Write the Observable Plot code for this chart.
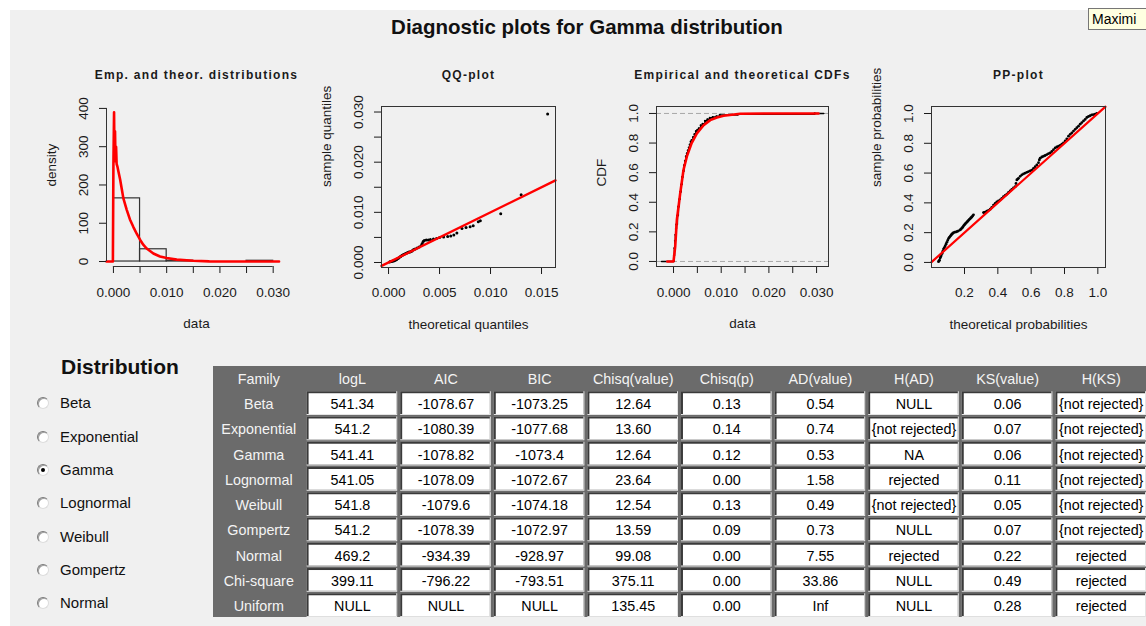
<!DOCTYPE html>
<html>
<head>
<meta charset="utf-8">
<script src="https://cdn.jsdelivr.net/npm/d3@7"></script>
<script src="https://cdn.jsdelivr.net/npm/@observablehq/plot@0.6"></script>
<style>
  body { margin:0; width:1146px; height:626px; overflow:hidden; position:relative; background:#fff; font-family:"Liberation Sans", Arial, sans-serif; }
  #bg { position:absolute; left:10px; top:10px; right:0; bottom:0; background:#f0f0f0; }
  .abs { position:absolute; }
  #title { left:0; width:1174px; top:15px; text-align:center; font-weight:bold; font-size:20.5px; color:#111; }
  #tip { left:1088px; top:8px; width:58px; height:22px; background:#ffffe1; border:1px solid #767676; border-right:none; font-size:14px; line-height:20px; padding-left:3px; box-sizing:border-box; overflow:hidden; white-space:nowrap; }
  #distHead { left:61px; top:355px; font-weight:bold; font-size:21px; color:#111; }
  .radio { position:absolute; width:12px; height:12px; border-radius:50%; background:#fff; box-sizing:border-box; border:1px solid; border-color:#7a7a7a #dcdcdc #dcdcdc #7a7a7a; box-shadow: inset 1px 1px 0 #a0a0a0; }
  .radio.on::after { content:""; position:absolute; left:3px; top:3px; width:4px; height:4px; border-radius:50%; background:#000; }
  .rlabel { position:absolute; font-size:15px; color:#111; line-height:18px; }
</style>
</head>
<body>
<div id="bg"></div>
<div id="title" class="abs">Diagnostic plots for Gamma distribution</div>
<div id="tip" class="abs">Maximi</div>
<div id="distHead" class="abs">Distribution</div>
<div id="radios"></div>
<div id="p1" class="abs" style="left:30px;top:60px"></div>
<div id="p2" class="abs" style="left:300px;top:60px"></div>
<div id="p3" class="abs" style="left:580px;top:60px"></div>
<div id="p4" class="abs" style="left:860px;top:60px"></div>
<div id="tbl" class="abs" style="left:213px;top:366px"></div>
<script>
// ---------------- DATA ----------------
// Panel 1: histogram + fitted gamma density
const histStart = [0, 0.005, 0.010, 0.015, 0.020, 0.025];
const histEnd   = [0.005, 0.010, 0.015, 0.020, 0.025, 0.030];
const histDensity = [165, 32, 2, 0, 0, 2];
const densityCurve = [
  [-0.0013, 0], [-0.0001, 0], [0.0000, 257], [0.00012, 390], [0.0002, 262], [0.0003, 340],
  [0.00038, 270], [0.0005, 300], [0.0006, 255], [0.00075, 248], [0.00094, 235], [0.00125, 215],
  [0.00156, 190], [0.00187, 165], [0.0025, 135], [0.0031, 110], [0.00375, 90], [0.0044, 72],
  [0.005, 57], [0.0056, 44], [0.00625, 34], [0.0075, 21], [0.00875, 13], [0.010, 9],
  [0.0119, 5], [0.015, 2], [0.018, 0.5], [0.0311, 0]
];
const p1XTicks = [0, 0.005, 0.010, 0.015, 0.020, 0.025, 0.030];
const p1XLabels = ["0.000", "", "0.010", "", "0.020", "", "0.030"];
const p1YTicks = [0, 100, 200, 300, 400];
const p1YLabels = ["0", "100", "200", "300", "400"];

// Panel 2: QQ plot (theoretical, sample)
const qqPoints = [
  [0.0001,0.0001],[0.0002,0.0002],[0.0003,0.0002],[0.0004,0.0003],[0.0005,0.0003],[0.0006,0.0004],
  [0.0007,0.0005],[0.0008,0.0006],[0.0009,0.0008],[0.0010,0.0009],[0.0011,0.0011],[0.0012,0.0012],
  [0.0013,0.0014],[0.0014,0.0015],[0.0015,0.0016],[0.0016,0.0017],[0.0017,0.0018],[0.0018,0.0019],
  [0.0019,0.0020],[0.0020,0.0021],[0.0021,0.0021],[0.0022,0.0022],[0.0023,0.0023],[0.0024,0.0025],
  [0.0025,0.0026],[0.0026,0.0027],[0.0028,0.0029],[0.0030,0.0031],[0.0032,0.0034],[0.0033,0.0038],
  [0.0034,0.0042],[0.0035,0.0044],[0.0037,0.0045],[0.0039,0.0045],[0.0041,0.0046],[0.0044,0.0047],
  [0.0047,0.0048],[0.0050,0.0050],[0.0054,0.0051],[0.0058,0.0052],[0.0061,0.0053],[0.0064,0.0055],
  [0.0067,0.0059],[0.0072,0.0068],[0.0076,0.0070],[0.0080,0.0071],[0.0083,0.0073],[0.0088,0.0081],
  [0.0090,0.0083],[0.0110,0.0097],[0.0130,0.0135],[0.0156,0.0296]
];
const p2XTicks = [0, 0.005, 0.010, 0.015];
const p2XLabels = ["0.000", "0.005", "0.010", "0.015"];
const p2YTicks = [0, 0.005, 0.010, 0.015, 0.020, 0.025, 0.030];
const p2YLabels = ["0.000", "", "0.010", "", "0.020", "", "0.030"];

// Panel 3: empirical and theoretical CDFs
const ecdfPoints = [
  [-0.0025,0],[0.0001,0.04],[0.0002,0.09],[0.0003,0.14],[0.0004,0.18],[0.0005,0.22],[0.0006,0.25],
  [0.0008,0.31],[0.0010,0.37],[0.0012,0.42],[0.0014,0.47],[0.0016,0.52],[0.0018,0.57],[0.0020,0.61],
  [0.0022,0.65],[0.0024,0.68],[0.0026,0.71],[0.0028,0.73],[0.0030,0.75],[0.0032,0.77],[0.0034,0.79],
  [0.0036,0.81],[0.0038,0.82],[0.0041,0.84],[0.0044,0.86],[0.0047,0.88],[0.0050,0.89],[0.0053,0.90],
  [0.0057,0.92],[0.0061,0.93],[0.0066,0.95],[0.0071,0.96],[0.0076,0.97],[0.0082,0.975],[0.0090,0.98],
  [0.0097,0.99],[0.0135,0.995],[0.0296,1.0],[0.0315,1.0]
];
const cdfCurve = [
  [-0.0013,0],[0.0000,0],[0.00035,0.10],[0.0007,0.28],[0.0014,0.46],[0.0021,0.62],[0.0028,0.71],
  [0.0038,0.80],[0.0049,0.865],[0.0063,0.92],[0.0077,0.955],[0.0091,0.973],[0.0105,0.984],
  [0.0140,0.998],[0.0200,1.0],[0.0304,1.0]
];
const cdfRefLevels = [0, 1];
const p3XTicks = [0, 0.005, 0.010, 0.015, 0.020, 0.025, 0.030];
const p3XLabels = ["0.000", "", "0.010", "", "0.020", "", "0.030"];
const p3YTicks = [0, 0.2, 0.4, 0.6, 0.8, 1.0];
const p3YLabels = ["0.0", "0.2", "0.4", "0.6", "0.8", "1.0"];

// Panel 4: PP plot (theoretical, sample)
const ppPoints = [
  [0.044,0.005],[0.047,0.010],[0.050,0.015],[0.054,0.030],[0.057,0.038],[0.060,0.045],[0.066,0.060],
  [0.070,0.075],[0.074,0.090],[0.079,0.100],[0.084,0.110],[0.089,0.122],[0.094,0.135],[0.099,0.148],
  [0.104,0.160],[0.109,0.168],[0.114,0.175],[0.119,0.183],[0.124,0.190],[0.129,0.195],[0.134,0.200],
  [0.142,0.203],[0.150,0.205],[0.157,0.208],[0.164,0.212],[0.174,0.218],[0.179,0.224],[0.184,0.230],
  [0.189,0.237],[0.194,0.245],[0.199,0.252],[0.204,0.258],[0.209,0.264],[0.214,0.270],[0.219,0.277],
  [0.224,0.283],[0.229,0.289],[0.234,0.294],[0.239,0.300],[0.244,0.305],[0.249,0.312],[0.254,0.320],
  [0.314,0.335],[0.319,0.336],[0.324,0.338],[0.334,0.345],[0.344,0.350],[0.354,0.357],[0.364,0.370],
  [0.374,0.385],[0.384,0.396],[0.394,0.407],[0.404,0.413],[0.414,0.420],[0.424,0.430],[0.434,0.441],
  [0.444,0.450],[0.454,0.458],[0.464,0.470],[0.474,0.480],[0.484,0.490],[0.494,0.500],[0.504,0.509],
  [0.509,0.530],[0.514,0.554],[0.519,0.560],[0.524,0.565],[0.534,0.578],[0.544,0.588],[0.554,0.594],
  [0.564,0.600],[0.574,0.605],[0.584,0.610],[0.594,0.615],[0.604,0.620],[0.614,0.632],[0.624,0.643],
  [0.634,0.655],[0.644,0.670],[0.649,0.688],[0.654,0.700],[0.664,0.708],[0.674,0.713],[0.684,0.718],
  [0.694,0.724],[0.704,0.730],[0.714,0.735],[0.724,0.745],[0.734,0.757],[0.744,0.769],[0.754,0.775],
  [0.764,0.780],[0.774,0.785],[0.784,0.794],[0.794,0.803],[0.804,0.816],[0.814,0.830],[0.824,0.848],
  [0.834,0.860],[0.844,0.870],[0.854,0.882],[0.864,0.894],[0.874,0.905],[0.884,0.915],[0.894,0.928],
  [0.904,0.939],[0.914,0.950],[0.924,0.960],[0.934,0.973],[0.944,0.980],[0.954,0.985],[0.964,0.991],
  [0.974,0.993],[0.984,0.995],[0.994,1.000]
];
const p4XTicks = [0.2, 0.4, 0.6, 0.8, 1.0];
const p4XLabels = ["0.2", "0.4", "0.6", "0.8", "1.0"];
const p4YTicks = [0, 0.2, 0.4, 0.6, 0.8, 1.0];
const p4YLabels = ["0.0", "0.2", "0.4", "0.6", "0.8", "1.0"];

// Table
const columns = ["Family", "logL", "AIC", "BIC", "Chisq(value)", "Chisq(p)", "AD(value)", "H(AD)", "KS(value)", "H(KS)"];
const families = ["Beta", "Exponential", "Gamma", "Lognormal", "Weibull", "Gompertz", "Normal", "Chi-square", "Uniform"];
const logL = ["541.34", "541.2", "541.41", "541.05", "541.8", "541.2", "469.2", "399.11", "NULL"];
const aic = ["-1078.67", "-1080.39", "-1078.82", "-1078.09", "-1079.6", "-1078.39", "-934.39", "-796.22", "NULL"];
const bic = ["-1073.25", "-1077.68", "-1073.4", "-1072.67", "-1074.18", "-1072.97", "-928.97", "-793.51", "NULL"];
const chisqValue = ["12.64", "13.60", "12.64", "23.64", "12.54", "13.59", "99.08", "375.11", "135.45"];
const chisqP = ["0.13", "0.14", "0.12", "0.00", "0.13", "0.09", "0.00", "0.00", "0.00"];
const adValue = ["0.54", "0.74", "0.53", "1.58", "0.49", "0.73", "7.55", "33.86", "Inf"];
const hAD = ["NULL", "{not rejected}", "NA", "rejected", "{not rejected}", "NULL", "rejected", "NULL", "NULL"];
const ksValue = ["0.06", "0.07", "0.06", "0.11", "0.05", "0.07", "0.22", "0.49", "0.28"];
const hKS = ["{not rejected}", "{not rejected}", "{not rejected}", "{not rejected}", "{not rejected}", "{not rejected}", "rejected", "rejected", "rejected"];

// Radio list
const distributions = ["Beta", "Exponential", "Gamma", "Lognormal", "Weibull", "Gompertz", "Normal"];
const selectedDistribution = "Gamma";

// ---------------- RENDER ----------------
const INK = "#1a1a1a";
const baseStyle = { background: "transparent", overflow: "visible", fontFamily: "'Liberation Sans', Arial, sans-serif", fontSize: "13.5px", color: INK };

function panel(o) {
  const lab = new Map(o.xTicks.map((t, i) => [t, o.xLabels[i]]));
  const marks = [
    ...o.marks,
    Plot.axisX({ ticks: o.xTicks, tickSize: 7, tickPadding: o.tickPad, tickFormat: d => lab.get(d) ?? "", label: null, stroke: INK }),
    Plot.axisY({ ticks: o.yTicks, tickSize: 7, tickFormat: () => "", label: null, stroke: INK }),
    Plot.text(o.yTicks, { y: d => d, frameAnchor: "left", dx: -22.5, rotate: -90, text: (d, i) => o.yLabels[i], textAnchor: "middle", lineAnchor: "middle", fill: INK }),
    Plot.text([o.title], { frameAnchor: "top", dy: -31, text: d => d, fontWeight: "bold", fontSize: 12, lineAnchor: "middle", fill: INK }),
    Plot.text([o.xLabel], { frameAnchor: "bottom", dy: 57, text: d => d, lineAnchor: "middle", fill: INK }),
    Plot.text([o.yLabel], { frameAnchor: "left", dx: -55, rotate: -90, text: d => d, lineAnchor: "middle", fill: INK })
  ];
  if (o.framed) marks.push(Plot.frame({ stroke: "#333" }));
  else {
    marks.push(Plot.ruleY([o.yDomain[0]], { x1: o.xTicks[0], x2: o.xTicks[o.xTicks.length - 1], stroke: "#333" }));
    marks.push(Plot.ruleX([o.xDomain[0]], { y1: o.yTicks[0], y2: o.yTicks[o.yTicks.length - 1], stroke: "#333" }));
  }
  const svg = Plot.plot({
    width: 270, height: 280,
    marginLeft: o.mL, marginRight: 270 - o.mL - o.fw, marginTop: 46, marginBottom: 280 - 46 - o.fh,
    x: { domain: o.xDomain, label: null },
    y: { domain: o.yDomain, label: null },
    style: baseStyle,
    marks
  });
  // R's bitmap title rendering is widely spaced
  d3.select(svg).selectAll("text").filter(function () { return this.textContent === o.title; })
    .style("letter-spacing", "1.3px");
  return svg;
}

// Panel 1
const p1XDomain = [-0.0013, 0.0325];
const p1YDomain = [-13, 405];
document.getElementById("p1").append(panel({
  mL: 76, fw: 180, fh: 160, tickPad: 14,
  xDomain: p1XDomain, yDomain: p1YDomain,
  xTicks: p1XTicks, xLabels: p1XLabels, yTicks: p1YTicks, yLabels: p1YLabels,
  title: "Emp. and theor. distributions", xLabel: "data", yLabel: "density", framed: false,
  marks: [
    Plot.rectY(histDensity, { x1: (d, i) => histStart[i], x2: (d, i) => histEnd[i], y1: 0, y2: d => d, fill: "none", stroke: "#333", strokeWidth: 1.2 }),
    Plot.line(densityCurve, { x: d => d[0], y: d => d[1], stroke: "#ff0000", strokeWidth: 2.6 })
  ]
}));

// Panel 2
const p2XDomain = [-0.00069, 0.01637];
const p2YDomain = [-0.001, 0.0311];
document.getElementById("p2").append(panel({
  mL: 81, fw: 174, fh: 161, tickPad: 13,
  xDomain: p2XDomain, yDomain: p2YDomain,
  xTicks: p2XTicks, xLabels: p2XLabels, yTicks: p2YTicks, yLabels: p2YLabels,
  title: "QQ-plot", xLabel: "theoretical quantiles", yLabel: "sample quantiles", framed: true,
  marks: [
    Plot.dot(qqPoints, { x: d => d[0], y: d => d[1], r: 1.5, fill: "#000" }),
    Plot.line(p2XDomain, { x: d => d, y: d => d, stroke: "#ff0000", strokeWidth: 2.4 })
  ]
}));

// Panel 3
const p3XDomain = [-0.00357, 0.0325];
const p3YDomain = [-0.034, 1.047];
document.getElementById("p3").append(panel({
  mL: 76, fw: 172, fh: 160, tickPad: 14,
  xDomain: p3XDomain, yDomain: p3YDomain,
  xTicks: p3XTicks, xLabels: p3XLabels, yTicks: p3YTicks, yLabels: p3YLabels,
  title: "Empirical and theoretical CDFs", xLabel: "data", yLabel: "CDF", framed: true,
  marks: [
    Plot.ruleY(cdfRefLevels, { stroke: "#a8a8a8", strokeDasharray: "5,3", strokeWidth: 1 }),
    Plot.line(ecdfPoints, { x: d => d[0], y: d => d[1], curve: "step-after", stroke: "#000", strokeWidth: 1.6 }),
    Plot.dot(ecdfPoints.slice(1, -1), { x: d => d[0], y: d => d[1], r: 1.1, fill: "#000" }),
    Plot.line(cdfCurve, { x: d => d[0], y: d => d[1], stroke: "#ff0000", strokeWidth: 2.6 })
  ]
}));

// Panel 4
const p4XDomain = [0.002, 1.046];
const p4YDomain = [-0.034, 1.047];
document.getElementById("p4").append(panel({
  mL: 71, fw: 174, fh: 161, tickPad: 13,
  xDomain: p4XDomain, yDomain: p4YDomain,
  xTicks: p4XTicks, xLabels: p4XLabels, yTicks: p4YTicks, yLabels: p4YLabels,
  title: "PP-plot", xLabel: "theoretical probabilities", yLabel: "sample probabilities", framed: true,
  marks: [
    Plot.dot(ppPoints, { x: d => d[0], y: d => d[1], r: 1.4, fill: "#000" }),
    Plot.line(p4XDomain, { x: d => d, y: d => d, stroke: "#ff0000", strokeWidth: 2.2 })
  ]
}));

// Table
const valueCols = [logL, aic, bic, chisqValue, chisqP, adValue, hAD, ksValue, hKS];
const cells = families.flatMap((f, i) => valueCols.map((arr, j) => ({ family: f, col: columns[j + 1], text: arr[i] })));
const tableFont = "'Liberation Sans', Arial, sans-serif";
document.getElementById("tbl").append(Plot.plot({
  width: 944, height: 254, margin: 0,
  x: { type: "band", domain: columns, range: [0, 944], paddingInner: 0.032, paddingOuter: 0, align: 0, round: false, axis: null },
  y: { type: "band", domain: ["header", ...families], range: [0, 254], paddingInner: 0.06, paddingOuter: 0, round: false, axis: null },
  style: { background: "#6b6b6b", fontFamily: tableFont, fontSize: "14.5px", overflow: "hidden" },
  marks: [
    Plot.cell(cells, { x: "col", y: "family", fill: "#e6e6e6" }),
    Plot.cell(cells, { x: "col", y: "family", fill: "#3a3a3a", insetRight: 1, insetBottom: 1 }),
    Plot.cell(cells, { x: "col", y: "family", fill: "#ffffff", insetTop: 2, insetLeft: 2, insetRight: 1, insetBottom: 1 }),
    Plot.text(cells, { x: "col", y: "family", text: "text", fill: "#000", dy: 1 }),
    Plot.text(columns, { x: d => d, y: () => "header", text: d => d, fill: "#f4f4f4", dy: 1 }),
    Plot.text(families, { x: () => "Family", y: d => d, text: d => d, fill: "#f4f4f4", dy: 1 })
  ]
}));

// Radio buttons
const radios = document.getElementById("radios");
distributions.forEach((name, i) => {
  const cy = 403.3 + i * 33.35;
  const c = document.createElement("div");
  c.className = "radio" + (name === selectedDistribution ? " on" : "");
  c.style.left = "37px"; c.style.top = (cy - 6) + "px";
  const t = document.createElement("div");
  t.className = "rlabel"; t.textContent = name;
  t.style.left = "60px"; t.style.top = (cy - 9) + "px";
  radios.append(c, t);
});
</script>
</body>
</html>
